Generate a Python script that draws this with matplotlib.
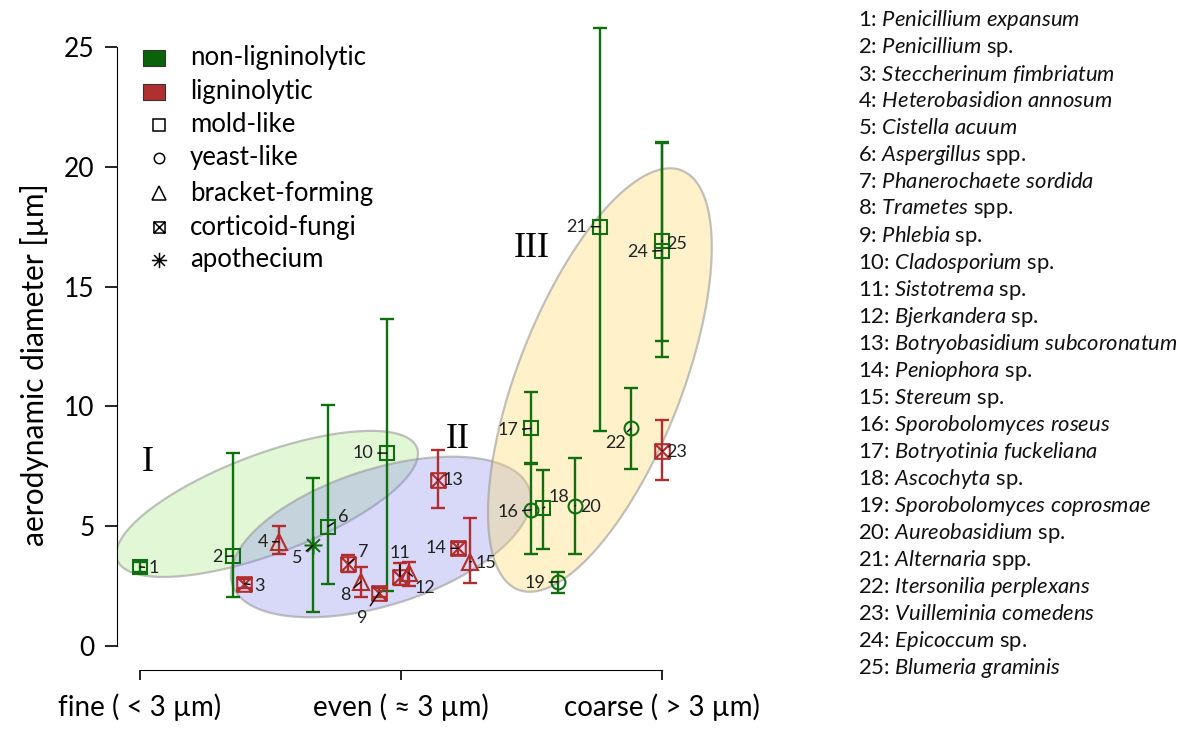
"""
Aerodynamic diameter of fungal spores, grouped by spore size class
"""

import numpy as np
import matplotlib
matplotlib.use('Agg')
import matplotlib.pyplot as plt
from matplotlib.path import Path
from matplotlib.patches import Polygon, Rectangle
from matplotlib.lines import Line2D

plt.rcParams['font.family'] = ['Lato', 'DejaVu Sans']
plt.rcParams['mathtext.fontset'] = 'custom'
plt.rcParams['mathtext.rm'] = 'Lato'
plt.rcParams['mathtext.it'] = 'Lato:italic'

W, H = 1189, 733

# size class position (0 = fine, 1 = even, 2 = coarse) and diameters
x_pos = [0.0, 0.356, 0.40, 0.533, 0.663, 0.72, 0.797, 0.847, 0.916, 0.947,
         0.996, 1.03, 1.14, 1.22, 1.264, 1.498, 1.498, 1.544, 1.60, 1.667,
         1.762, 1.88, 2.0, 2.0, 2.0]
diam = [3.3, 3.76, 2.6, 4.35, 4.2, 4.98, 3.42, 2.68, 2.22, 8.05,
        2.9, 3.05, 6.93, 4.08, 3.52, 5.68, 9.08, 5.75, 2.68, 5.86,
        17.5, 9.08, 8.15, 16.5, 16.9]
diam_lo = [3.1, 2.06, 2.4, 3.84, 1.42, 2.6, 3.1, 2.06, 2.05, 2.3,
           2.55, 2.5, 5.75, 3.8, 2.62, 3.84, 7.63, 4.03, 2.22, 3.84,
           8.99, 7.37, 6.93, 12.07, 12.74]
diam_hi = [3.5, 8.07, 2.8, 5.0, 7.03, 10.06, 3.8, 3.3, 2.4, 13.65,
           3.45, 3.5, 8.2, 4.35, 5.35, 7.58, 10.59, 7.35, 3.07, 7.86,
           25.8, 10.75, 9.43, 21.05, 21.0]
lignin = [0, 0, 1, 1, 0, 0, 1, 1, 1, 0,
          1, 1, 1, 1, 1, 0, 0, 0, 0, 0,
          0, 0, 1, 0, 0]
growth = ['mold', 'mold', 'cort', 'bracket', 'apo', 'mold', 'cort', 'bracket', 'cort', 'mold',
          'cort', 'bracket', 'cort', 'cort', 'bracket', 'yeast', 'mold', 'mold', 'yeast', 'yeast',
          'mold', 'yeast', 'cort', 'mold', 'mold']

species = ['Penicillium expansum', 'Penicillium', 'Steccherinum fimbriatum',
           'Heterobasidion annosum', 'Cistella acuum', 'Aspergillus',
           'Phanerochaete sordida', 'Trametes', 'Phlebia', 'Cladosporium',
           'Sistotrema', 'Bjerkandera', 'Botryobasidium subcoronatum',
           'Peniophora', 'Stereum', 'Sporobolomyces roseus',
           'Botryotinia fuckeliana', 'Ascochyta', 'Sporobolomyces coprosmae',
           'Aureobasidium', 'Alternaria', 'Itersonilia perplexans',
           'Vuilleminia comedens', 'Epicoccum', 'Blumeria graminis']
species_suffix = ['', 'sp.', '', '', '', 'spp.', '', 'spp.', 'sp.', 'sp.',
                  'sp.', 'sp.', '', 'sp.', 'sp.', '', '', 'sp.', '', 'sp.',
                  'spp.', '', '', 'sp.', '']

size_labels = ['fine ( < 3 \u00b5m)', 'even ( \u2248 3 \u00b5m)', 'coarse ( > 3 \u00b5m)']

# label offsets in pixels (right, down) from the marker
label_off = [(14, 1), (-16, 1), (15, 2), (-16, 0), (-16, 13), (15, -10), (15, -12),
             (-16, 13), (-17, 25), (-24, 0), (0, -24), (16, 15), (15, 0), (-22, 0),
             (16, 1), (-23, 2), (-23, 2), (16, -11), (-23, 1), (15, 1), (-23, 0),
             (-15, 15), (15, 1), (-24, 1), (15, 3)]

GREEN = '#107010'
RED = '#b22d2d'

box_x = Path([(-1, -1), (1, -1), (1, 1), (-1, 1), (-1, -1), (-1, -1), (1, 1), (-1, 1), (1, -1)],
             [Path.MOVETO, Path.LINETO, Path.LINETO, Path.LINETO, Path.CLOSEPOLY,
              Path.MOVETO, Path.LINETO, Path.MOVETO, Path.LINETO])
ast = Path([(-1, 0), (1, 0), (0, -1), (0, 1), (-0.71, -0.71), (0.71, 0.71), (-0.71, 0.71), (0.71, -0.71)],
           [Path.MOVETO, Path.LINETO] * 4)
markers = {'mold': ('s', 10.5), 'yeast': ('o', 10), 'bracket': ('^', 12),
           'cort': (box_x, 10.5), 'apo': (ast, 13)}

fig = plt.figure(figsize=(W / 100, H / 100), dpi=100)
ax = fig.add_axes([117 / W, 1 - 670 / H, (740 - 117) / W, (670 - 23) / H])
ax.set_xlim(-23 / 261, 600 / 261)
ax.set_ylim(-1.0017, 26.0)

# grouping ellipses, drawn in pixel space
sx = ax.transData.transform((1, 1))[0] - ax.transData.transform((0, 0))[0]
sy = ax.transData.transform((1, 1))[1] - ax.transData.transform((0, 0))[1]
ellipses = [((0.487, 5.93), 160, 50, 20.5, (0.55, 0.88, 0.35, 0.25)),
            ((0.923, 4.55), 156, 68, 17.7, (0.5, 0.5, 0.93, 0.3)),
            ((1.762, 11.1), 225, 82, 68.7, (1.0, 0.85, 0.38, 0.33))]
t = np.linspace(0, 2 * np.pi, 300)
for (cx, cy), a, b, ang, fc in ellipses:
    th = np.radians(ang)
    dx = a * np.cos(t) * np.cos(th) - b * np.sin(t) * np.sin(th)
    dy = a * np.cos(t) * np.sin(th) + b * np.sin(t) * np.cos(th)
    pts = np.column_stack([cx + dx / sx, cy + dy / sy])
    ax.add_patch(Polygon(pts, closed=True, facecolor=fc, edgecolor=(0.6, 0.6, 0.6, 0.6),
                         lw=1.6, zorder=1))

ax.text(0.03, 7.64, 'I', family='Liberation Serif', fontsize=26, ha='center', va='center')
ax.text(1.218, 8.6, 'II', family='Liberation Serif', fontsize=26, ha='center', va='center')
ax.text(1.502, 16.6, 'III', family='Liberation Serif', fontsize=26, ha='center', va='center')

x_pos = np.array(x_pos)
diam = np.array(diam)
lo = np.array(diam_lo)
hi = np.array(diam_hi)
for i in range(len(x_pos)):
    col = RED if lignin[i] else GREEN
    mk, ms = markers[growth[i]]
    ax.errorbar(x_pos[i], diam[i], yerr=[[diam[i] - lo[i]], [hi[i] - diam[i]]], fmt='none',
                ecolor=col, elinewidth=1.7, capsize=5, capthick=1.7, zorder=3)
    ax.plot(x_pos[i], diam[i], marker=mk, ms=ms, mfc='none', mec=col, mew=1.5,
            linestyle='none', zorder=4)
    ox, oy = label_off[i]
    ax.annotate(str(i + 1), xy=(x_pos[i], diam[i]), xytext=(ox * 0.72, -oy * 0.72),
                textcoords='offset points', ha='center', va='center', fontsize=13,
                color='#222222', zorder=5,
                arrowprops=dict(arrowstyle='-', color='black', lw=1.0, shrinkA=1, shrinkB=0))

for s in ['top', 'right']:
    ax.spines[s].set_visible(False)
ax.spines['left'].set_bounds(0, 25)
ax.spines['bottom'].set_bounds(0, 2)
ax.set_yticks([0, 5, 10, 15, 20, 25])
ax.set_xticks([0, 1, 2])
ax.set_xticklabels(size_labels)
ax.tick_params(axis='y', labelsize=19, length=9, width=1.2, pad=7)
ax.tick_params(axis='x', labelsize=20, length=7, width=1.2, pad=10)
fig.text(35 / W, 1 - 365 / H, 'aerodynamic diameter [\u00b5m]', rotation=90,
         fontsize=21.5, ha='center', va='center')

# legend
leg_y = [58, 92, 125, 158, 193, 227, 260]
leg_text = ['non-ligninolytic', 'ligninolytic', 'mold-like', 'yeast-like',
            'bracket-forming', 'corticoid-fungi', 'apothecium']
for yy, txt in zip(leg_y, leg_text):
    fig.text(190 / W, 1 - yy / H, txt, fontsize=18.5, ha='left', va='center')
for yy, fc in zip(leg_y[:2], ['#0a620a', '#b03030']):
    fig.add_artist(Rectangle((143 / W, 1 - (yy + 8) / H), 22 / W, 16 / H, facecolor=fc,
                             edgecolor='#333333', lw=0.8, transform=fig.transFigure))
leg_mk = [('s', 8), ('o', 7.5), ('^', 9.5), (box_x, 8), (ast, 11)]
for yy, (mk, ms) in zip(leg_y[2:], leg_mk):
    fig.add_artist(Line2D([159 / W], [1 - yy / H], marker=mk, ms=ms, mfc='none', mec='black',
                          mew=1.1, linestyle='none', transform=fig.transFigure))

# species list
for i, (name, suf) in enumerate(zip(species, species_suffix)):
    s = f'{i + 1}: $\\mathit{{{name.replace(" ", "{\\ }")}}}$'
    if suf:
        s += ' ' + suf
    fig.text(858 / W, 1 - (20 + 27 * i) / H, s, fontsize=15.8, ha='left', va='center',
             color='#111111')

fig.savefig('out.png', dpi=100)
